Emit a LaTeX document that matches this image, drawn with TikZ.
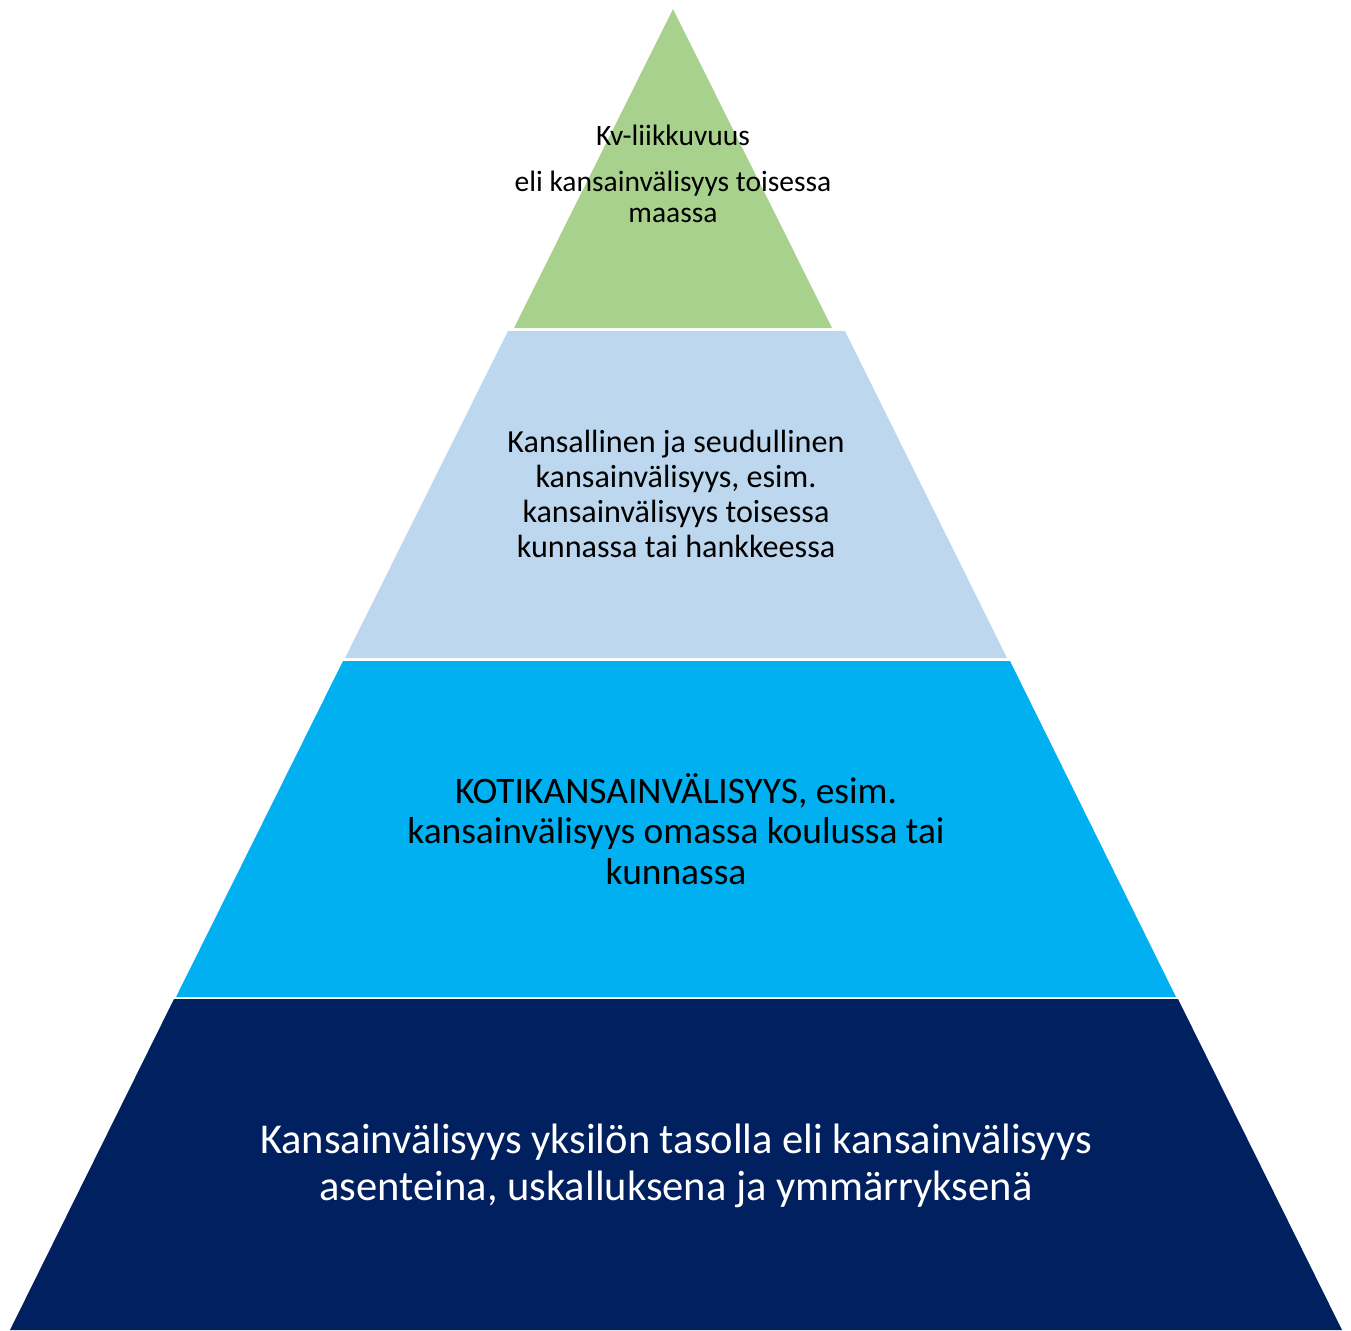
\documentclass[tikz,border=0pt]{standalone}
\usepackage{fontspec}
\setmainfont{Carlito}
\definecolor{kvgreen}{HTML}{A9D18E}
\definecolor{seublue}{HTML}{BDD7EE}
\definecolor{kotiblue}{HTML}{00B0F0}
\definecolor{yksnavy}{HTML}{002060}
\begin{document}
\begin{tikzpicture}[x=0.02cm, y=-0.02cm, every node/.style={align=center, inner sep=0pt}]
			\useasboundingbox (0,0) rectangle (1351,1330);

			% pyramid layers
			\fill[kvgreen] (673,9) -- (832,328) -- (514,328) -- cycle;
			\fill[seublue] (508,331) -- (845,331) -- (1007,658) -- (345,658) -- cycle;
			\fill[kotiblue] (343,661) -- (1010,661) -- (1176,997) -- (176,997) -- cycle;
			\fill[yksnavy] (174,999) -- (1178,999) -- (1342,1330) -- (10,1330) -- cycle;

			% texts
			\node[font={\fontsize{16.8}{17.6}\selectfont}] (kv) at (673,174) {Kv-liikkuvuus\\[8.5pt] eli kansainvälisyys toisessa\\ maassa};
			\node[font={\fontsize{18.3}{19.8}\selectfont}] (seutu) at (676,494) {Kansallinen ja seudullinen\\ kansainvälisyys, esim.\\ kansainvälisyys toisessa\\ kunnassa tai hankkeessa};
			\node[font={\fontsize{21.3}{23.2}\selectfont}] (koti) at (676,829) {KOTIKANSAINVÄLISYYS, esim.\\ kansainvälisyys omassa koulussa tai\\ kunnassa};
			\node[text=white, font={\fontsize{24.2}{26.6}\selectfont}] (yksilo) at (676,1166) {Kansainvälisyys yksilön tasolla eli kansainvälisyys\\ asenteina, uskalluksena ja ymmärryksenä};
		\end{tikzpicture}
\end{document}
